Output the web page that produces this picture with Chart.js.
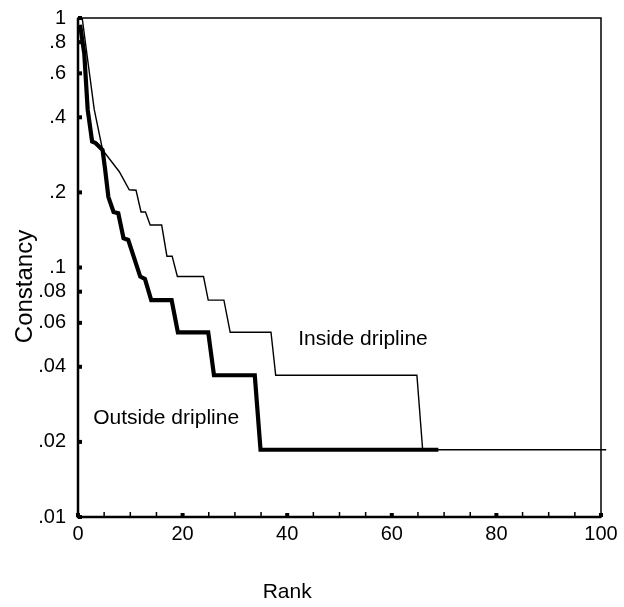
<!DOCTYPE html>
<html>
<head>
<meta charset="utf-8">
<script src="https://cdn.jsdelivr.net/npm/chart.js@4.4.0/dist/chart.umd.min.js"></script>
<style>
  html, body { margin: 0; padding: 0; background: #fff; }
  canvas { display: block; }
</style>
</head>
<body>
<canvas id="rankChart" width="624" height="607"></canvas>
<script>
// Rank / constancy curves
const insideRank = [0.8, 1.85, 3.1, 4.7, 7.9, 9.8, 11.1, 12.05, 12.9, 13.8, 16, 17, 18, 19, 24, 24.9, 27.9, 29.1, 36.9, 37.8, 64.8, 65.9, 101];
const insideConst = [1, 0.68, 0.43, 0.296, 0.242, 0.205, 0.204, 0.167, 0.167, 0.148, 0.148, 0.111, 0.111, 0.092, 0.092, 0.074, 0.074, 0.055, 0.055, 0.037, 0.037, 0.0186, 0.0186];

const outsideRank = [0.4, 1.2, 1.85, 2.7, 3.4, 4.7, 5.2, 5.8, 6.8, 7.7, 8.7, 9.6, 11.9, 12.8, 14, 17.9, 19.1, 24.9, 26, 33.8, 34.9, 68.9];
const outsideConst = [0.94, 0.72, 0.43, 0.32, 0.315, 0.296, 0.246, 0.192, 0.167, 0.165, 0.131, 0.129, 0.092, 0.09, 0.074, 0.074, 0.055, 0.055, 0.037, 0.037, 0.0186, 0.0186];

const yTicks = [0.01, 0.02, 0.04, 0.06, 0.08, 0.1, 0.2, 0.4, 0.6, 0.8, 1];
const xLabelEvery = 20;

const FONT = "'Liberation Sans', Arial, Helvetica, sans-serif";
Chart.defaults.color = "#000";
Chart.defaults.font.family = FONT;

const toPoints = (xs, ys) => xs.map((v, i) => ({ x: v, y: ys[i] }));

// frame, inward tick marks, curve labels and axis titles
const decorations = {
  id: "decorations",
  afterDatasetsDraw(chart) {
    const { ctx, chartArea: { left, right, top, bottom }, scales: { x, y } } = chart;
    ctx.save();
    ctx.strokeStyle = "#000";
    ctx.fillStyle = "#000";
    ctx.lineWidth = 1.5;
    ctx.strokeRect(left, top, right - left, bottom - top);
    ctx.lineWidth = 2.5;
    ctx.beginPath();
    ctx.moveTo(left, top);
    ctx.lineTo(left, bottom);
    ctx.lineTo(right, bottom);
    ctx.stroke();

    yTicks.forEach(v => {
      const py = y.getPixelForValue(v);
      ctx.fillRect(left, py - 2, 4, 4);
    });
    x.ticks.forEach(t => {
      const px = x.getPixelForValue(t.value);
      if (t.value % xLabelEvery === 0) ctx.fillRect(px - 2, bottom - 4, 4, 4);
      else ctx.fillRect(px - 0.75, bottom - 5, 1.5, 5);
    });

    ctx.font = "21px " + FONT;
    ctx.textBaseline = "middle";
    ctx.textAlign = "left";
    ctx.fillText("Inside dripline", x.getPixelForValue(42.1), y.getPixelForValue(0.0517));
    ctx.fillText("Outside dripline", x.getPixelForValue(2.9), y.getPixelForValue(0.0249));

    ctx.textAlign = "center";
    ctx.fillText("Rank", left + (right - left) * 0.4, bottom + 75);
    ctx.translate(25, (top + bottom) / 2 + 19);
    ctx.rotate(-Math.PI / 2);
    ctx.font = "24px " + FONT;
    ctx.fillText("Constancy", 0, 0);
    ctx.restore();
  }
};

new Chart(document.getElementById("rankChart"), {
  type: "scatter",
  data: {
    datasets: [
      {
        label: "Inside dripline",
        data: toPoints(insideRank, insideConst),
        showLine: true,
        borderColor: "#000",
        borderWidth: 1.4,
        pointRadius: 0,
        tension: 0,
        clip: false
      },
      {
        label: "Outside dripline",
        data: toPoints(outsideRank, outsideConst),
        showLine: true,
        borderColor: "#000",
        borderWidth: 4.2,
        pointRadius: 0,
        tension: 0
      }
    ]
  },
  options: {
    responsive: false,
    devicePixelRatio: 1,
    animation: false,
    layout: { padding: { left: 10, right: 23, top: 18, bottom: 0 } },
    plugins: { legend: { display: false }, tooltip: { enabled: false } },
    scales: {
      x: {
        type: "linear",
        min: 0,
        max: 100,
        grid: { display: false },
        border: { display: false },
        ticks: {
          stepSize: 5,
          autoSkip: false,
          maxRotation: 0,
          padding: -3,
          font: { size: 20 },
          callback: v => (v % xLabelEvery === 0 ? String(v) : "")
        },
        afterFit: scale => { scale.height = 90; }
      },
      y: {
        type: "logarithmic",
        min: 0.01,
        max: 1,
        grid: { display: false },
        border: { display: false },
        afterBuildTicks: scale => { scale.ticks = yTicks.map(v => ({ value: v })); },
        ticks: {
          padding: 4,
          font: { size: 20 },
          callback: v => (v === 1 ? "1" : String(v).replace(/^0/, ""))
        },
        afterFit: scale => { scale.width = 68; }
      }
    }
  },
  plugins: [decorations]
});
</script>
</body>
</html>
